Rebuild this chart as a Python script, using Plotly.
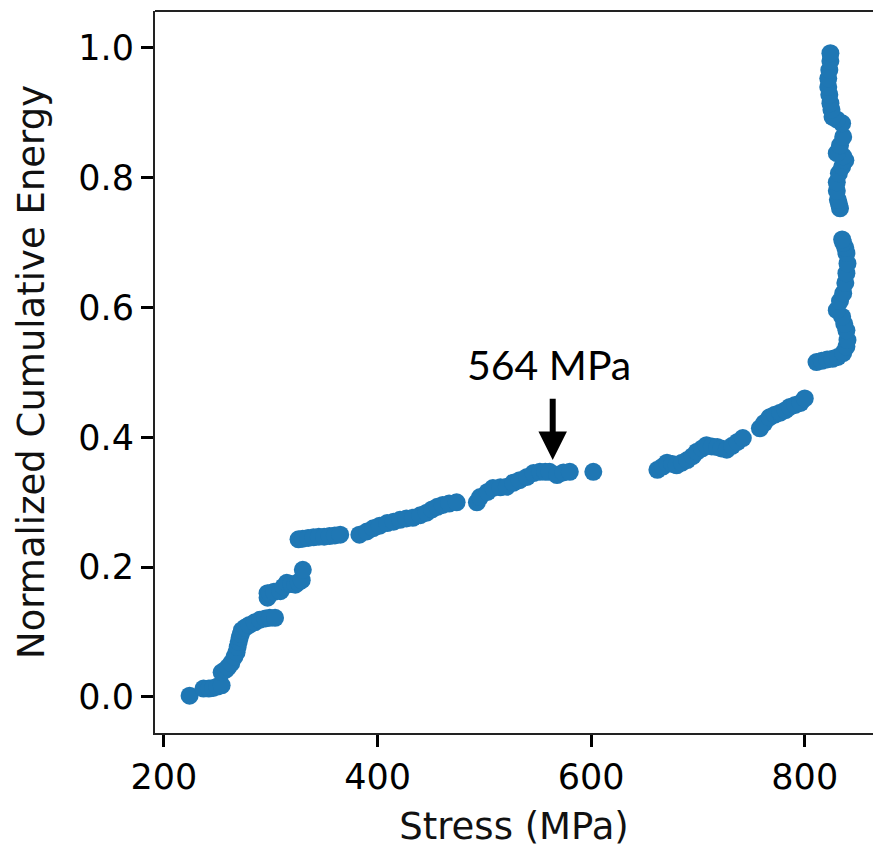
import plotly.graph_objects as go

# Stress (MPa) and normalized cumulative energy
stress = [
    224, 237, 242, 246, 250, 254, 254, 258, 260, 263, 266, 268, 269, 270, 271, 272, 273, 276,
    280, 285, 290, 295, 299, 304, 297, 297, 299, 303, 309, 312, 315, 319, 323, 326, 329, 330,
    326, 330, 335, 340, 345, 350, 355, 360, 365,
    383, 390, 396, 402, 409, 415, 421, 427, 433, 440, 446, 451, 456, 461, 467, 474,
    493, 496, 503, 508, 515, 521, 527, 533, 540, 546, 552, 557, 561, 568, 574, 580, 602,
    662, 667, 671, 676, 680, 685, 690, 695, 699, 704, 708, 713, 718, 722, 727, 732, 737, 742,
    758, 762, 767, 772, 777, 782, 786, 791, 796, 800,
    811, 816, 821, 826, 831, 836, 839, 840, 839, 837, 835, 830, 833, 836, 838, 839, 840, 839, 838, 836, 835,
    833, 832, 831, 830, 830, 832, 835, 838, 836, 830, 833, 836, 835, 830, 826, 825, 824, 823, 822, 822, 823, 824, 824
]
energy = [
    0.002, 0.013, 0.013, 0.014, 0.016, 0.018, 0.038, 0.042, 0.046, 0.052, 0.062, 0.069, 0.077, 0.085, 0.092, 0.097, 0.103, 0.107,
    0.111, 0.115, 0.119, 0.121, 0.122, 0.122, 0.153, 0.160, 0.160, 0.162, 0.163, 0.170, 0.176, 0.174, 0.173, 0.177, 0.180, 0.196,
    0.243, 0.244, 0.245, 0.246, 0.247, 0.247, 0.248, 0.249, 0.250,
    0.250, 0.255, 0.260, 0.264, 0.268, 0.270, 0.273, 0.275, 0.276, 0.280, 0.284, 0.289, 0.293, 0.296, 0.298, 0.300,
    0.300, 0.308, 0.316, 0.322, 0.323, 0.324, 0.330, 0.334, 0.339, 0.345, 0.347, 0.347, 0.347, 0.342, 0.346, 0.347, 0.347,
    0.350, 0.355, 0.361, 0.359, 0.357, 0.361, 0.365, 0.371, 0.378, 0.383, 0.388, 0.386, 0.385, 0.383, 0.381, 0.387, 0.393, 0.399,
    0.414, 0.422, 0.431, 0.435, 0.438, 0.442, 0.447, 0.450, 0.453, 0.460,
    0.516, 0.518, 0.520, 0.521, 0.524, 0.530, 0.540, 0.550, 0.565, 0.575, 0.586, 0.596, 0.610, 0.622, 0.638, 0.653, 0.668, 0.684, 0.692, 0.700, 0.705,
    0.753, 0.760, 0.766, 0.780, 0.793, 0.807, 0.817, 0.827, 0.833, 0.838, 0.850, 0.863, 0.884, 0.890, 0.894, 0.905, 0.915, 0.928, 0.940, 0.953, 0.966, 0.980, 0.992, 1.000
]

x_ticks = [200, 400, 600, 800]
y_ticks = [0.0, 0.2, 0.4, 0.6, 0.8, 1.0]

marker_stress = 564
label_text = "564 MPa"

fig = go.Figure()
fig.add_trace(go.Scatter(
    x=stress, y=energy, mode="markers",
    marker=dict(size=18, color="#1f77b4", line=dict(width=0)),
    showlegend=False, hoverinfo="skip"
))

# arrow
fig.add_annotation(
    x=marker_stress, y=0.365, ax=marker_stress, ay=0.462,
    xref="x", yref="y", axref="x", ayref="y",
    text="", showarrow=True, arrowhead=2, arrowsize=0.95, arrowwidth=6, arrowcolor="black"
)
# label
fig.add_annotation(
    x=560.5, y=0.513, xref="x", yref="y", text=label_text, showarrow=False,
    font=dict(family="Lato", size=41, color="black"), xanchor="center", yanchor="middle"
)

# top frame line
fig.add_shape(type="line", xref="paper", yref="paper", x0=0, x1=1, y0=1, y1=1,
              line=dict(color="#222", width=2))

tick_font = dict(family="DejaVu Sans", size=35, color="black")
title_font = dict(family="DejaVu Sans", size=37, color="#111")

fig.update_xaxes(
    range=[191.6, 863.9], tickvals=x_ticks, ticktext=[str(v) for v in x_ticks],
    showline=True, linewidth=2, linecolor="#222", mirror=False,
    ticks="outside", ticklen=12, tickwidth=3, tickcolor="black",
    showgrid=False, zeroline=False, tickfont=tick_font,
    title=dict(text="Stress (MPa)", font=title_font, standoff=18)
)
fig.update_yaxes(
    range=[-0.0555, 1.057], tickvals=y_ticks, ticktext=[f"{v:.1f}" for v in y_ticks],
    showline=True, linewidth=2, linecolor="#222", mirror=False,
    ticks="outside", ticklen=12, tickwidth=3, tickcolor="black",
    showgrid=False, zeroline=False, tickfont=tick_font,
    title=dict(text="Normalized Cumulative Energy", font=title_font, standoff=22)
)

fig.update_layout(
    width=873, height=848,
    margin=dict(l=155, r=0, t=11, b=115),
    plot_bgcolor="white", paper_bgcolor="white",
)

fig.write_html("out.html")
